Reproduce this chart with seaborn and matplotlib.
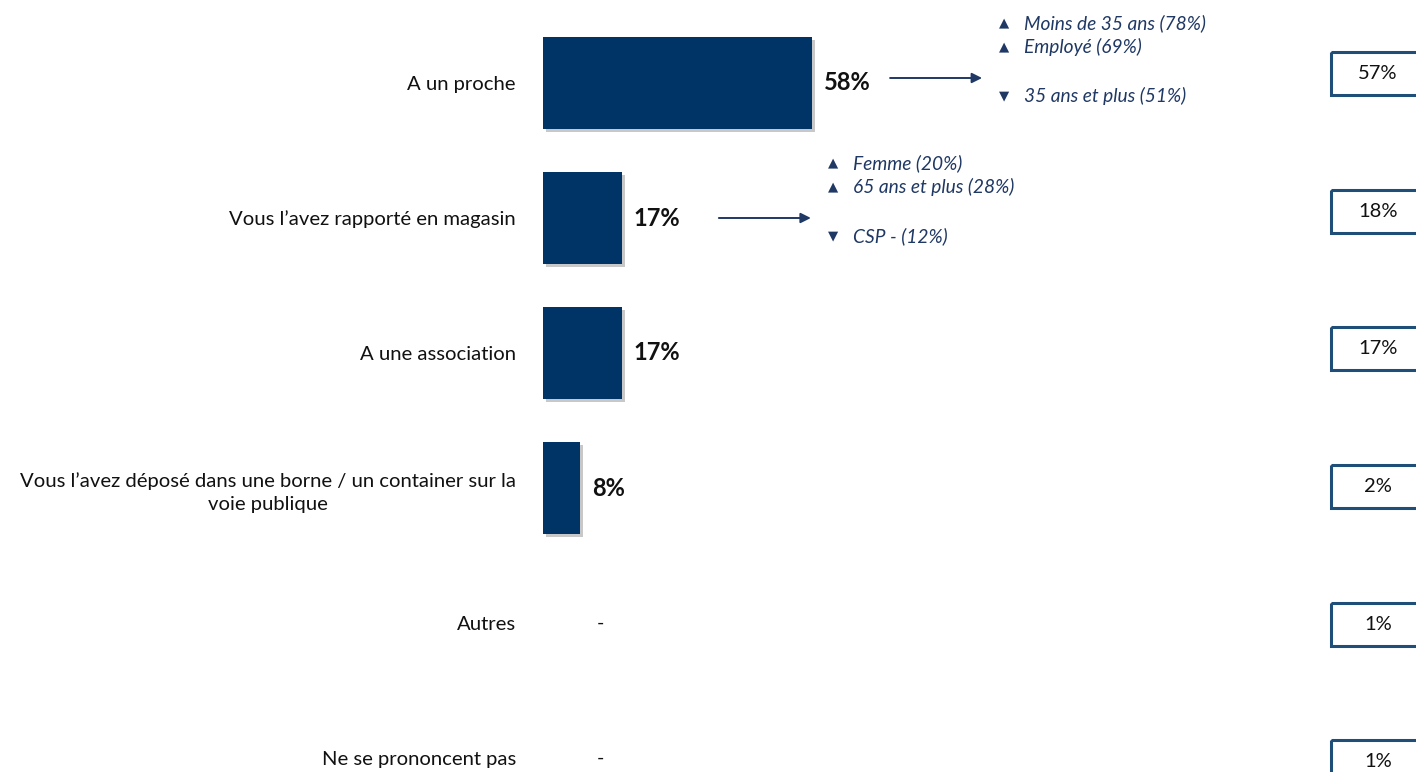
import numpy as np
import pandas as pd
import matplotlib
matplotlib.use("Agg")
import matplotlib.pyplot as plt
import matplotlib.patheffects as pe
import seaborn as sns

# ---------------- data ----------------
categories = [
    "A un proche",
    "Vous l\u2019avez rapporté en magasin",
    "A une association",
    "Vous l\u2019avez déposé dans une borne / un container sur la\nvoie publique",
    "Autres",
    "Ne se prononcent pas",
]
values = [58, 17, 17, 8, None, None]          # None -> "-"
previous = [57, 18, 17, 2, 1, 1]              # right-hand comparison boxes

# significance call-outs: row index -> list of (direction, text)
callouts = {
    0: [("up", "Moins de 35 ans (78%)"), ("up", "Employé (69%)"), ("down", "35 ans et plus (51%)")],
    1: [("up", "Femme (20%)"), ("up", "65 ans et plus (28%)"), ("down", "CSP - (12%)")],
}
arrow_start = {0: 74.8, 1: 37.9}

# ---------------- style ----------------
sns.set_theme(style="white")
plt.rcParams["font.family"] = ["Lato", "DejaVu Sans"]

BAR = "#003366"
NAVY_TXT = "#1F3864"
BOX = "#1F4E79"
TXT = "#111111"

W, H = 1416, 772
fig = plt.figure(figsize=(W / 100, H / 100), dpi=100)
fig.patch.set_facecolor("white")

px_per_unit = 4.64
x0 = 543
ax = fig.add_axes([x0 / W, 0, (W - x0) / W, 1])
row_px = 135.0
first_px = 83.0

df = pd.DataFrame({"cat": categories, "val": [v if v is not None else 0 for v in values]})
sns.barplot(data=df, y="cat", x="val", order=categories, orient="h", color=BAR,
            saturation=1, width=92 / row_px, linewidth=0, ax=ax)

for p in ax.patches:
    if p.get_width() > 0:
        p.set_path_effects([pe.SimplePatchShadow(offset=(2, -2.5), shadow_rgbFace="#777777", alpha=0.4),
                            pe.Normal()])

ax.set_xlim(0, (W - x0) / px_per_unit)
ax.set_ylim((H - first_px) / row_px, -first_px / row_px)
ax.set_xlabel("")
ax.set_ylabel("")
ax.set_xticks([])
sns.despine(ax=ax, left=True, bottom=True)
ax.tick_params(axis="y", length=0, pad=19.5, labelsize=14.6, labelcolor=TXT)
for lab in ax.get_yticklabels():
    lab.set_multialignment("center")
    lab.set_linespacing(1.45)

lab_off = 12 / px_per_unit
for i, v in enumerate(values):
    if v is None:
        ax.text(57 / px_per_unit, i, "-", ha="center", va="center", fontsize=14, color=TXT)
    else:
        ax.text(v + lab_off, i, f"{v}%", ha="left", va="center", fontsize=17,
                fontweight="bold", color=TXT)

# arrows + call-outs
arrow_len = 92 / px_per_unit
arrow_dy = {0: -5 / row_px, 1: 0.0}
line_offsets = [-55 / row_px, -31 / row_px, 18 / row_px]
for i, items in callouts.items():
    ya = i + arrow_dy[i]
    xs = arrow_start[i]
    xe = xs + arrow_len
    ax.annotate("", xy=(xe, ya), xytext=(xs, ya),
                arrowprops=dict(arrowstyle="-|>", color=NAVY_TXT, lw=1.4, mutation_scale=15,
                                shrinkA=0, shrinkB=0))
    for (direction, txt), dy in zip(items, line_offsets):
        sym = "\u25B2" if direction == "up" else "\u25BC"
        ax.text(xe + 22 / px_per_unit, ya + dy, sym, ha="center", va="center",
                fontsize=9.5, color=NAVY_TXT, family="DejaVu Sans")
        ax.text(xe + 42 / px_per_unit, ya + dy, txt, ha="left", va="center",
                fontsize=13.8, style="italic", color=NAVY_TXT)

# right-hand comparison boxes
bx0 = 1330
ax2 = fig.add_axes([bx0 / W, 0, (W - bx0) / W, 1])
box_row = 137.5
box_first = 74.0
ax2.set_xlim(0, 1)
ax2.set_ylim((H - box_first) / box_row, -box_first / box_row)
ax2.axis("off")
pos = np.arange(len(previous))
ax2.barh(pos, [1.2] * len(previous), left=0.012, height=43 / box_row, fill=False,
         edgecolor=BOX, linewidth=2.2, clip_on=False)
for i, v in enumerate(previous):
    ax2.text((1378 - bx0) / (W - bx0), i, f"{v}%", ha="center", va="center",
             fontsize=14.5, color=TXT)

fig.savefig("out.png", dpi=100, facecolor="white")
